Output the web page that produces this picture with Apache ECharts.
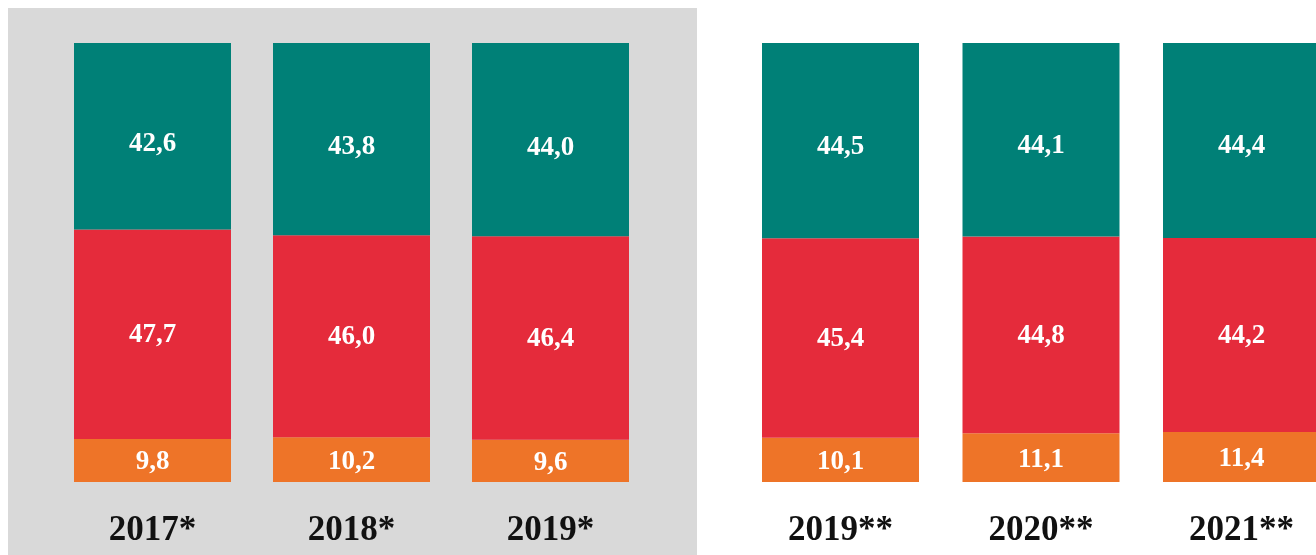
<!DOCTYPE html>
<html>
<head>
<meta charset="utf-8">
<script src="https://cdn.jsdelivr.net/npm/echarts@6/dist/echarts.min.js"></script>
<style>html,body{margin:0;padding:0;background:#fff;}#c{width:1316px;height:555px;}</style>
</head>
<body>
<div id="c"></div>
<script>
const categoriesLeft = ['2017*', '2018*', '2019*'];
const categoriesRight = ['2019**', '2020**', '2021**'];
const bottomLeft = [9.8, 10.2, 9.6];
const middleLeft = [47.7, 46.0, 46.4];
const topLeft = [42.6, 43.8, 44.0];
const bottomRight = [10.1, 11.1, 11.4];
const middleRight = [45.4, 44.8, 44.2];
const topRight = [44.5, 44.1, 44.4];

const colors = { top: '#008077', middle: '#E52B3B', bottom: '#EE7428' };
const serif = '"Liberation Serif", "DejaVu Serif", serif';
const fmt = p => p.value.toFixed(1).replace('.', ',');

function mk(name, data, color, idx, dy) {
  return {
    name: name, type: 'bar', stack: 's' + idx, data: data,
    xAxisIndex: idx, yAxisIndex: idx, barWidth: 157,
    itemStyle: { color: color },
    label: { show: true, position: 'inside', offset: [0, dy], formatter: fmt, color: '#fff',
             fontFamily: serif, fontSize: 27, fontWeight: 'bold' }
  };
}

const chart = echarts.init(document.getElementById('c'), null, { renderer: 'canvas' });
chart.setOption({
  animation: false,
  backgroundColor: '#fff',
  graphic: [{ type: 'rect', z: -10, shape: { x: 8, y: 8, width: 689, height: 560 }, style: { fill: '#D9D9D9' } }],
  grid: [
    { left: 53, width: 597, top: 43, bottom: 73 },
    { left: 840.5, width: 401, top: 43, bottom: 73 }
  ],
  xAxis: [0, 1].map(i => ({
    type: 'category', gridIndex: i, data: i === 0 ? categoriesLeft : categoriesRight,
    boundaryGap: i === 0,
    axisLine: { show: false }, axisTick: { show: false },
    axisLabel: { color: '#111', fontFamily: serif, fontSize: 35, fontWeight: 'bold', margin: 31 }
  })),
  yAxis: [0, 1].map(i => ({
    type: 'value', gridIndex: i, min: 0, max: 100, show: false, splitLine: { show: false }
  })),
  series: [
    mk('Anteil unten', bottomLeft, colors.bottom, 0, 2),
    mk('Anteil Mitte', middleLeft, colors.middle, 0, 1),
    mk('Anteil oben', topLeft, colors.top, 0, 8),
    mk('Anteil unten', bottomRight, colors.bottom, 1, 2),
    mk('Anteil Mitte', middleRight, colors.middle, 1, 1),
    mk('Anteil oben', topRight, colors.top, 1, 6)
  ]
});
</script>
</body>
</html>
